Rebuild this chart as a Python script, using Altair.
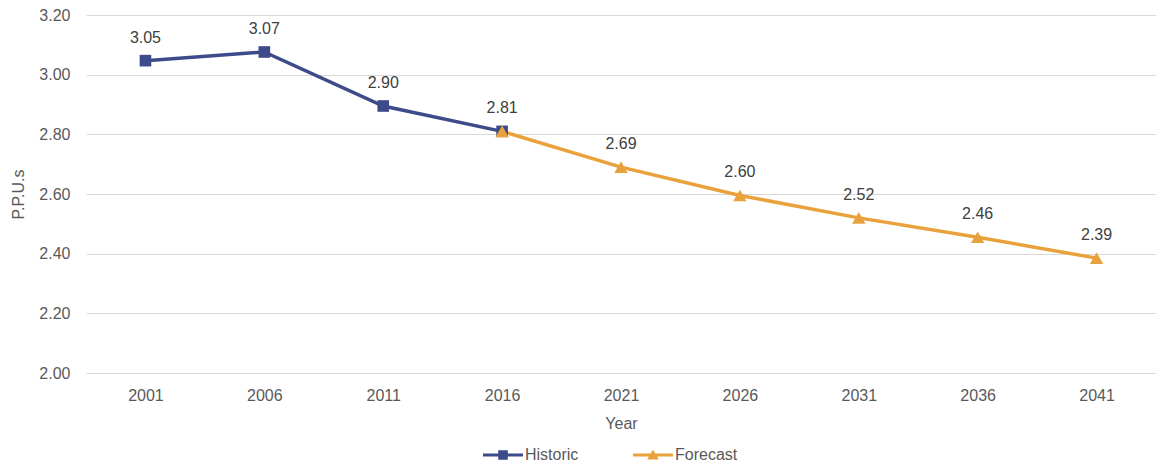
import altair as alt
import pandas as pd

hist_years = ["2001", "2006", "2011", "2016"]
hist_values = [3.047, 3.076, 2.895, 2.81]
fc_years = ["2016", "2021", "2026", "2031", "2036", "2041"]
fc_values = [2.81, 2.69, 2.595, 2.52, 2.455, 2.385]
label_years = ["2001", "2006", "2011", "2016", "2021", "2026", "2031", "2036", "2041"]
label_values = [3.047, 3.076, 2.895, 2.81, 2.69, 2.595, 2.52, 2.455, 2.385]
label_texts = ["3.05", "3.07", "2.90", "2.81", "2.69", "2.60", "2.52", "2.46", "2.39"]
all_years = label_years

series_names = ["Historic", "Forecast"]
colors = ["#3D4B8A", "#E9A23B"]

df = pd.concat([
    pd.DataFrame({"year": hist_years, "value": hist_values, "series": "Historic"}),
    pd.DataFrame({"year": fc_years, "value": fc_values, "series": "Forecast"}),
], ignore_index=True)
labels = pd.DataFrame({"year": label_years, "value": label_values, "text": label_texts})

xscale = alt.Scale(domain=all_years, padding=0.5)
yscale = alt.Scale(domain=[2.0, 3.2], nice=False, zero=False)

x = alt.X("year:O", title="Year", sort=all_years, scale=xscale,
          axis=alt.Axis(labelAngle=0, domain=False, ticks=False, labelPadding=14,
                        titlePadding=12, labelFontSize=16, titleFontSize=16,
                        labelColor="#595959", titleColor="#595959", titleFontWeight="normal"))
y = alt.Y("value:Q", title="P.P.U.s", scale=yscale,
          axis=alt.Axis(values=[2.0, 2.2, 2.4, 2.6, 2.8, 3.0, 3.2], format=".2f",
                        domain=False, ticks=False, labelPadding=16, labelFontSize=16,
                        titleFontSize=16, titlePadding=12, gridColor="#D9D9D9",
                        labelColor="#595959", titleColor="#595959", titleFontWeight="normal"))
color_nolegend = alt.Color("series:N", scale=alt.Scale(domain=series_names, range=colors), legend=None)

lines = alt.Chart(df).mark_line(strokeWidth=3.5).encode(x=x, y=y, color=color_nolegend, detail="series:N")

hist_points = alt.Chart(df).transform_filter(alt.datum.series == "Historic").mark_point(
    filled=True, size=135, opacity=1, shape="square").encode(x=x, y=y, color=color_nolegend)
fc_points = alt.Chart(df).transform_filter(alt.datum.series == "Forecast").mark_point(
    filled=True, size=180, opacity=1, shape="triangle-up").encode(x=x, y=y, color=color_nolegend)

sq_path = "M-1,-0.08 H1 V0.08 H-1 Z M-0.24,-0.24 H0.24 V0.24 H-0.24 Z"
tri_path = "M-1,-0.08 H1 V0.08 H-1 Z M0,-0.27 L0.29,0.22 L-0.29,0.22 Z"

leg = alt.Legend(title=None, orient="none", direction="horizontal",
                 legendX=397, legendY=420, symbolSize=1600,
                 symbolOpacity=1, symbolStrokeWidth=0,
                 labelFontSize=16, labelColor="#595959",
                 columnPadding=54, labelOffset=2)

legend_layer = alt.Chart(df).mark_point(filled=True, opacity=0).encode(
    x=x, y=y,
    color=alt.Color("series:N", scale=alt.Scale(domain=series_names, range=colors), legend=leg),
    shape=alt.Shape("series:N", scale=alt.Scale(domain=series_names, range=[sq_path, tri_path]), legend=leg),
)

texts = alt.Chart(labels).mark_text(dy=-23, fontSize=16, color="#404040").encode(
    x=alt.X("year:O", sort=all_years, scale=xscale),
    y=alt.Y("value:Q", scale=yscale),
    text="text:N",
)

chart = alt.layer(lines, hist_points, fc_points, legend_layer, texts).resolve_scale(
    color="independent", shape="independent"
).properties(
    width=1070, height=358,
    autosize=alt.AutoSizeParams(type="none"),
    padding={"left": 86, "top": 15, "right": 0, "bottom": 92},
).configure(font="Liberation Sans").configure_view(stroke=None)

chart.save("out.html", embed_options={"renderer": "svg", "actions": False})
